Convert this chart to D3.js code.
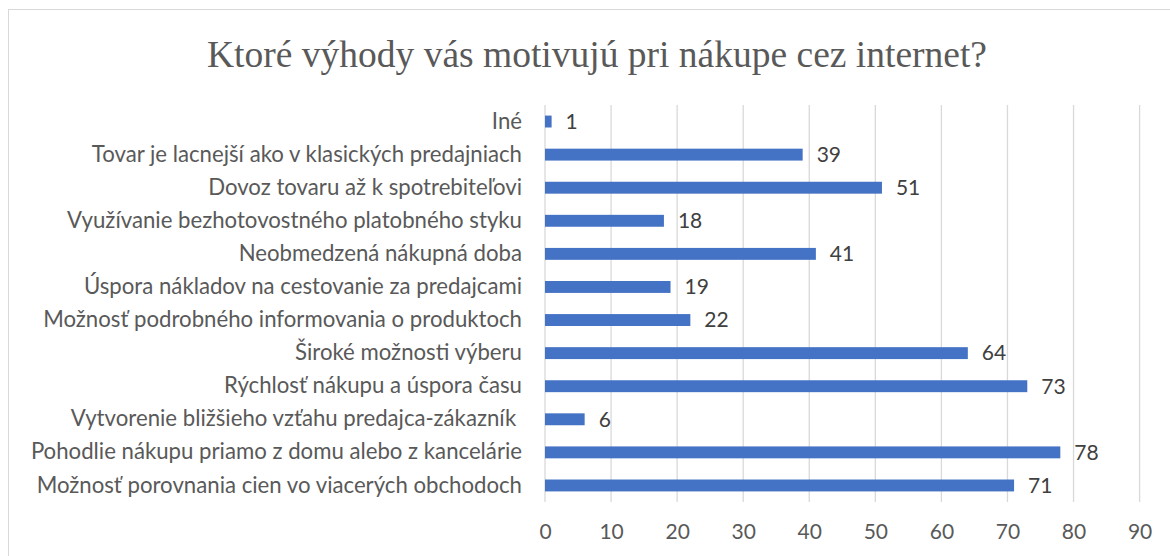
<!DOCTYPE html>
<html><head><meta charset="utf-8">
<script src="https://cdn.jsdelivr.net/npm/d3@7"></script>
<style>
html,body{margin:0;padding:0;background:#fff;}
svg{display:block;}
</style></head>
<body>
<svg id="chart" width="1170" height="556"></svg>
<script>
const title = "Ktoré výhody vás motivujú pri nákupe cez internet?";
const categories = [
  "Iné",
  "Tovar je lacnejší ako v klasických predajniach",
  "Dovoz tovaru až k spotrebiteľovi",
  "Využívanie bezhotovostného platobného styku",
  "Neobmedzená nákupná doba",
  "Úspora nákladov na cestovanie za predajcami",
  "Možnosť podrobného informovania o produktoch",
  "Široké možnosti výberu",
  "Rýchlosť nákupu a úspora času",
  "Vytvorenie bližšieho vzťahu predajca-zákazník ",
  "Pohodlie nákupu priamo z domu alebo z kancelárie",
  "Možnosť porovnania cien vo viacerých obchodoch"
];
const values = [1, 39, 51, 18, 41, 19, 22, 64, 73, 6, 78, 71];
const xTicks = [0, 10, 20, 30, 40, 50, 60, 70, 80, 90];

const svg = d3.select("#chart");
const plot = {left: 545, right: 1139.6, top: 105, bottom: 502};
const sans = "Lato, 'Open Sans', sans-serif";

// outer border (cropped at right and bottom)
svg.append("rect").attr("x", 8.5).attr("y", 9.5).attr("width", 1200).attr("height", 600)
  .attr("fill", "#fff").attr("stroke", "#d9d9d9").attr("stroke-width", 1);

const x = d3.scaleLinear().domain([0, 90]).range([plot.left, plot.right]);
const y = d3.scaleBand().domain(categories).range([plot.top, plot.bottom]).paddingInner(0.64).paddingOuter(0.32);

// gridlines
svg.append("g").selectAll("line").data(xTicks).join("line")
  .attr("x1", d => x(d)).attr("x2", d => x(d))
  .attr("y1", plot.top).attr("y2", plot.bottom)
  .attr("stroke", "#d9d9d9").attr("stroke-width", 1.3);

// x axis tick labels
const xAxis = d3.axisBottom(x).tickValues(xTicks).tickSize(0).tickPadding(0);
const gx = svg.append("g").attr("transform", `translate(0,${plot.bottom + 22})`).call(xAxis);
gx.select(".domain").remove();
gx.selectAll("text").attr("font-family", sans).attr("font-size", 21).attr("fill", "#595959").attr("dy", "0.71em");

// y axis labels
const yAxis = d3.axisLeft(y).tickSize(0).tickPadding(23);
const gy = svg.append("g").attr("transform", `translate(${plot.left},0)`).call(yAxis);
gy.select(".domain").remove();
gy.selectAll("text").attr("font-family", sans).attr("font-size", 22.2).attr("fill", "#595959").style("white-space", "pre");

// bars
svg.append("g").selectAll("rect").data(values).join("rect")
  .attr("x", x(0))
  .attr("y", (d, i) => y(categories[i]))
  .attr("width", d => x(d) - x(0))
  .attr("height", y.bandwidth())
  .attr("fill", "#4472c4");

// value labels
svg.append("g").selectAll("text").data(values).join("text")
  .attr("x", d => x(d) + 14)
  .attr("y", (d, i) => y(categories[i]) + y.bandwidth() / 2)
  .attr("dy", "0.35em")
  .attr("font-family", sans).attr("font-size", 21).attr("fill", "#404040")
  .text(d => d);

// title
svg.append("text").attr("x", 597).attr("y", 67).attr("text-anchor", "middle")
  .attr("font-family", "'Liberation Serif', 'Times New Roman', serif").attr("font-size", 37.5)
  .attr("fill", "#595959").text(title);
</script>
</body></html>
